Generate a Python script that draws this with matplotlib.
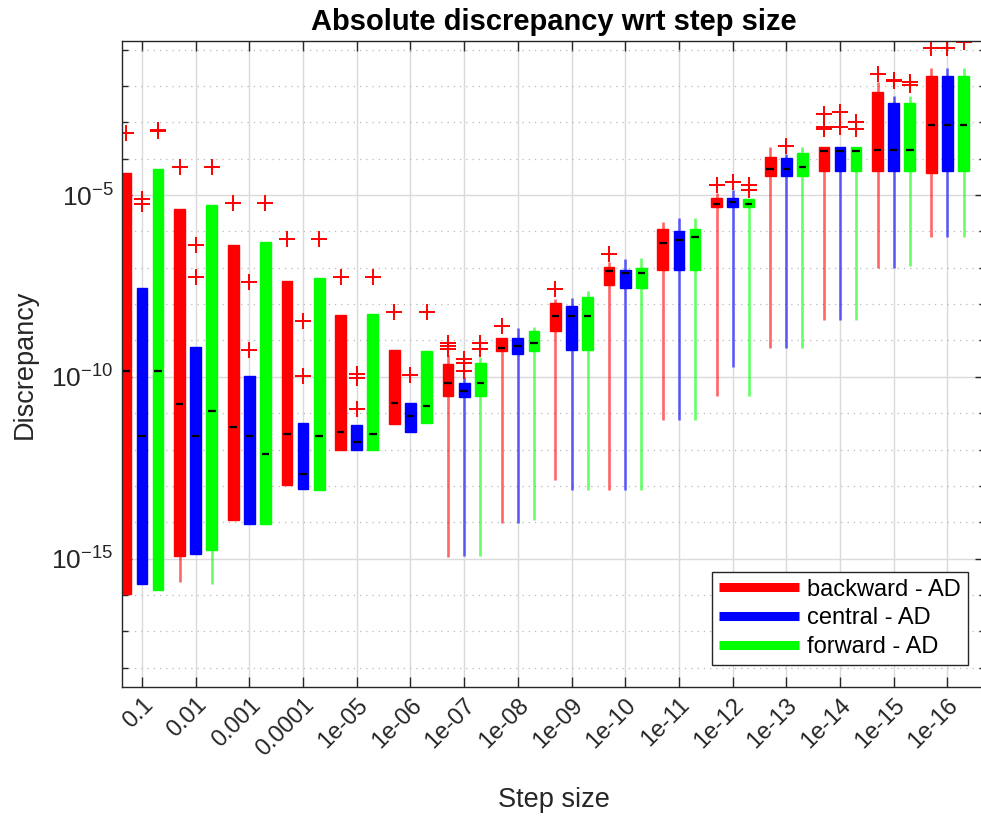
import numpy as np
import matplotlib
matplotlib.use('Agg')
import matplotlib.pyplot as plt
from matplotlib.lines import Line2D
from matplotlib.ticker import FixedLocator, NullFormatter

plt.rcParams['font.family'] = ['Liberation Sans', 'DejaVu Sans']
plt.rcParams['mathtext.fontset'] = 'custom'
plt.rcParams['mathtext.rm'] = 'Liberation Sans'
plt.rcParams['mathtext.it'] = 'Liberation Sans:italic'
plt.rcParams['mathtext.bf'] = 'Liberation Sans:bold'

step_labels = ['0.1', '0.01', '0.001', '0.0001', '1e-05', '1e-06', '1e-07', '1e-08',
               '1e-09', '1e-10', '1e-11', '1e-12', '1e-13', '1e-14', '1e-15', '1e-16']
methods = ['backward - AD', 'central - AD', 'forward - AD']
colors = ['#ff0000', '#0000ff', '#00ff00']

# values are log10(discrepancy)
bwd_lo = [-15.98, -15.64, -13.94, -12.98, -12.00, -11.30, -14.95, -14.02, -12.85, -13.10, -11.18, -10.54, -9.20, -8.44, -7.00, -6.15]
bwd_q1 = [-15.98, -14.94, -13.94, -12.98, -12.00, -11.30, -10.53, -9.28, -8.74, -7.47, -7.06, -5.33, -4.48, -4.34, -4.34, -4.40]
bwd_med = [-9.83, -10.76, -11.39, -11.57, -11.52, -10.73, -10.17, -9.22, -8.32, -7.08, -6.31, -5.24, -4.28, -3.78, -3.76, -3.06]
bwd_q3 = [-4.40, -5.37, -6.36, -7.36, -8.30, -9.27, -9.65, -8.94, -7.96, -6.97, -5.92, -5.07, -3.94, -3.67, -2.16, -1.72]
bwd_hi = [-4.40, -5.37, -6.36, -7.36, -8.30, -9.27, -9.40, -8.94, -7.85, -6.85, -5.73, -4.95, -3.69, -3.67, -1.88, -1.51]
bwd_out = [[-3.28], [-4.24], [-5.21], [-6.22], [-7.25], [-8.21], [-9.08, -9.16, -9.24], [-8.60],
           [-7.58], [-6.62], [], [-4.71], [], [-2.78, -3.13, -3.19], [-1.68], [-0.96]]

cen_lo = [-15.69, -14.86, -14.05, -13.09, -12.00, -11.53, -14.94, -14.02, -13.10, -13.10, -11.18, -9.72, -9.20, -8.44, -7.00, -6.15]
cen_q1 = [-15.69, -14.86, -14.05, -13.09, -12.00, -11.53, -10.55, -9.36, -9.25, -7.55, -7.06, -5.33, -4.48, -4.34, -4.34, -4.34]
cen_med = [-11.63, -11.63, -11.63, -12.68, -11.80, -11.07, -10.38, -9.16, -8.34, -7.13, -6.24, -5.20, -4.28, -3.78, -3.76, -3.06]
cen_q3 = [-7.57, -9.19, -9.97, -11.27, -11.33, -10.71, -10.16, -8.92, -8.04, -7.06, -5.98, -5.07, -3.99, -3.67, -2.46, -1.72]
cen_hi = [-7.57, -9.19, -9.97, -11.27, -11.33, -10.71, -10.00, -8.67, -7.84, -6.77, -5.62, -4.86, -3.88, -3.67, -2.27, -1.50]
cen_out = [[-5.12, -5.25], [-6.38, -7.25], [-7.39, -9.25], [-8.46, -9.97], [-9.93, -10.02, -10.89], [-9.95],
           [-9.51, -9.63, -9.83], [], [], [], [], [-4.65], [-3.65], [-2.72, -3.12], [-1.83, -1.86], [-0.96]]

fwd_lo = [-15.87, -15.69, -14.04, -13.12, -12.00, -11.26, -14.94, -13.93, -13.10, -13.10, -11.18, -10.54, -9.20, -8.44, -6.94, -6.15]
fwd_q1 = [-15.87, -14.77, -14.04, -13.12, -12.00, -11.26, -10.52, -9.28, -9.25, -7.55, -7.06, -5.33, -4.48, -4.34, -4.34, -4.34]
fwd_med = [-9.85, -10.94, -12.13, -11.64, -11.56, -10.81, -10.17, -9.06, -8.32, -7.13, -6.14, -5.24, -4.22, -3.78, -3.76, -3.06]
fwd_q3 = [-4.27, -5.28, -6.29, -7.29, -8.28, -9.29, -9.63, -8.75, -7.81, -7.00, -5.94, -5.12, -3.83, -3.67, -2.46, -1.72]
fwd_hi = [-4.27, -5.28, -6.29, -7.29, -8.28, -9.29, -9.45, -8.62, -7.63, -6.74, -5.64, -5.12, -3.69, -3.67, -2.27, -1.51]
fwd_out = [[-3.21, -3.25], [-4.24], [-5.21], [-6.22], [-7.25], [-8.21], [-9.06, -9.23], [], [], [], [],
           [-4.73, -4.86], [], [-3.00, -3.17], [-1.88, -1.97], [-0.78]]

series = [
    (bwd_lo, bwd_q1, bwd_med, bwd_q3, bwd_hi, bwd_out),
    (cen_lo, cen_q1, cen_med, cen_q3, cen_hi, cen_out),
    (fwd_lo, fwd_q1, fwd_med, fwd_q3, fwd_hi, fwd_out),
]
offsets = [-0.3, 0.0, 0.3]

W, H = 981, 819
fig = plt.figure(figsize=(W / 100, H / 100), dpi=100)
ax = fig.add_axes([122 / W, 1 - 687 / H, (985 - 122) / W, (687 - 41) / H])

dark = '#262626'
x = np.arange(1, len(step_labels) + 1)

for (lo, q1, med, q3, hi, out), off, c in zip(series, offsets, colors):
    stats = []
    for i in range(len(step_labels)):
        stats.append(dict(whislo=10 ** lo[i], q1=10 ** q1[i], med=10 ** med[i],
                          q3=10 ** q3[i], whishi=10 ** hi[i],
                          fliers=10 ** np.array(out[i], dtype=float)))
    res = ax.bxp(stats, positions=x + off, widths=0.2, patch_artist=True,
                 showcaps=False, manage_ticks=False,
                 boxprops=dict(facecolor=c, edgecolor=c, linewidth=1.0),
                 whiskerprops=dict(color=c, alpha=0.6, linewidth=1.9, solid_capstyle='butt'),
                 medianprops=dict(color='black', linewidth=1.6),
                 flierprops=dict(marker='+', markeredgecolor='red', markerfacecolor='none',
                                 markersize=11.5, markeredgewidth=1.4, linestyle='none'))
    for ln in res['medians']:
        xd = ln.get_xdata()
        cx = 0.5 * (min(xd) + max(xd))
        ln.set_xdata([cx - 0.07, cx + 0.07])
    for ln in res['whiskers']:
        ln.set_zorder(1.5)

ax.set_yscale('log')
ax.set_xlim(0.628, 16.70)
ax.set_ylim(10 ** -18.53, 10 ** -0.763)

ax.set_xticks(x)
ax.set_xticklabels(step_labels, rotation=45, ha='right', rotation_mode='anchor',
                   fontsize=17, color=dark)
ax.yaxis.set_major_locator(FixedLocator([1e-15, 1e-10, 1e-5]))
ax.set_yticklabels([r'$10^{-15}$', r'$10^{-10}$', r'$10^{-5}$'], fontsize=19, color=dark)
ax.yaxis.set_minor_locator(FixedLocator([10.0 ** k for k in range(-18, 0)]))
ax.yaxis.set_minor_formatter(NullFormatter())

ax.tick_params(axis='both', which='major', direction='in', length=7, width=1, color=dark,
               top=True, right=True)
ax.tick_params(axis='x', which='major', pad=5)
ax.tick_params(axis='y', which='major', pad=6)
ax.tick_params(axis='y', which='minor', direction='in', length=4, width=1, color=dark,
               right=True)

ax.set_axisbelow(True)
ax.grid(True, which='major', axis='both', color='#dadada', linewidth=1.0, linestyle='-')
ax.grid(True, which='minor', axis='y', color='#b8b8b8', linewidth=0.9, linestyle=(0, (1, 4)))

for sp in ax.spines.values():
    sp.set_color(dark)
    sp.set_linewidth(1.0)

ax.set_title('Absolute discrepancy wrt step size', fontsize=21, fontweight='bold', pad=8)
ax.set_xlabel('Step size', fontsize=19.5, color=dark)
ax.set_ylabel('Discrepancy', fontsize=19.5, color=dark)
ax.xaxis.set_label_coords(0.5, (687 - 800) / 646)
ax.xaxis.label.set_va('center')
ax.yaxis.set_label_coords((25 - 122) / 863, 0.5)
ax.yaxis.label.set_va('center')

handles = [Line2D([0], [0], color=c, linewidth=6.5, solid_capstyle='butt') for c in colors]
leg = ax.legend(handles, methods, loc='lower right', bbox_to_anchor=((968 - 122) / 863, (687 - 665) / 646),
                fontsize=17, frameon=True, fancybox=False, framealpha=1, edgecolor=dark,
                handlelength=3.4, handletextpad=0.35, labelspacing=0.28, borderpad=0.3,
                borderaxespad=0)
leg.get_frame().set_linewidth(1.0)

fig.savefig('out.png', dpi=100)
